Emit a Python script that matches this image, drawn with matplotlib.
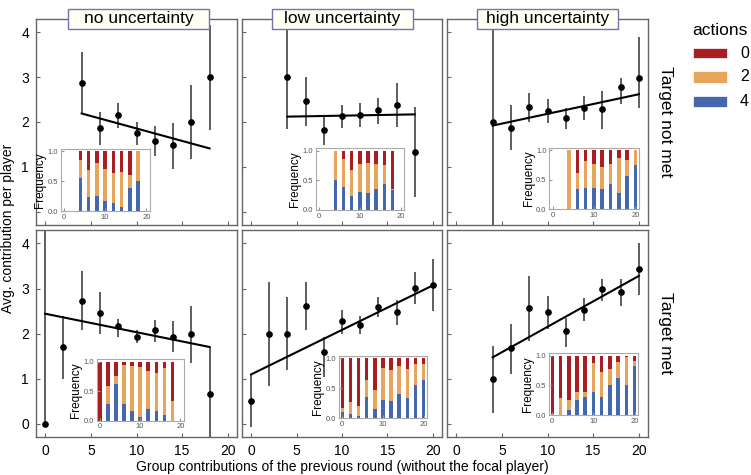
import numpy as np
import matplotlib
matplotlib.use('Agg')
import matplotlib.pyplot as plt
from matplotlib.patches import Rectangle

plt.rcParams['font.family'] = ['Liberation Sans', 'DejaVu Sans']

# ---- data: main panels (mean, CI low, CI high, fitted line ends) ----
x_nm_none = [4, 6, 8, 10, 12, 14, 16, 18]
mean_nm_none = [2.86, 1.86, 2.15, 1.75, 1.57, 1.48, 2.01, 3.00]
lo_nm_none = [2.19, 1.48, 1.87, 1.49, 1.24, 0.96, 1.18, 1.83]
hi_nm_none = [3.57, 2.23, 2.42, 2.01, 1.90, 1.98, 2.82, 4.16]
fit_nm_none = [2.19, 1.41]

x_nm_low = [4, 6, 8, 10, 12, 14, 16, 18]
mean_nm_low = [3.00, 2.46, 1.82, 2.13, 2.16, 2.26, 2.37, 1.33]
lo_nm_low = [1.85, 1.92, 1.48, 1.87, 1.88, 1.96, 1.88, 0.33]
hi_nm_low = [4.40, 3.00, 2.16, 2.39, 2.43, 2.54, 2.87, 2.34]
fit_nm_low = [2.12, 2.17]

x_nm_high = [4, 6, 8, 10, 12, 14, 16, 18, 20]
mean_nm_high = [2.00, 1.87, 2.34, 2.25, 2.08, 2.31, 2.28, 2.78, 2.99]
lo_nm_high = [-1.0, 1.37, 2.01, 1.97, 1.85, 2.04, 1.85, 2.40, 2.31]
hi_nm_high = [5.0, 2.37, 2.65, 2.52, 2.31, 2.57, 2.70, 2.98, 3.89]
fit_nm_high = [1.92, 2.62]

x_m_none = [0, 2, 4, 6, 8, 10, 12, 14, 16, 18]
mean_m_none = [0.00, 1.71, 2.73, 2.46, 2.16, 1.93, 2.07, 1.93, 1.99, 0.66]
lo_m_none = [0.00, 0.99, 2.07, 1.98, 1.93, 1.78, 1.82, 1.58, 1.35, -0.5]
hi_m_none = [5.0, 2.40, 3.40, 2.93, 2.33, 2.07, 2.29, 2.27, 2.62, 1.70]
fit_m_none = [2.44, 1.70]

x_m_low = [0, 2, 4, 6, 8, 10, 12, 14, 16, 18, 20]
mean_m_low = [0.49, 1.99, 1.99, 2.61, 1.58, 2.27, 2.20, 2.58, 2.48, 3.02, 3.07]
lo_m_low = [-0.08, 0.84, 1.18, 2.07, 1.03, 1.99, 1.99, 2.36, 2.20, 2.66, 2.50]
hi_m_low = [1.09, 3.14, 2.81, 3.14, 1.92, 2.53, 2.40, 2.81, 2.75, 3.36, 3.66]
fit_m_low = [1.09, 3.07]

x_m_high = [4, 6, 8, 10, 12, 14, 16, 18, 20]
mean_m_high = [1.00, 1.67, 2.56, 2.47, 2.05, 2.53, 2.98, 2.93, 3.43]
lo_m_high = [0.23, 1.10, 1.84, 2.10, 1.71, 2.27, 2.73, 2.61, 2.86]
hi_m_high = [1.73, 2.21, 3.27, 2.84, 2.35, 2.79, 3.21, 3.21, 4.00]
fit_m_high = [1.47, 3.28]

# ---- data: inset bars (share of action 4, share of action 4 or 2) ----
bx_nm_none = [4, 6, 8, 10, 12, 14, 16, 18]
p4_nm_none = [0.56, 0.24, 0.25, 0.17, 0.13, 0.06, 0.39, 0.50]
p42_nm_none = [0.85, 0.68, 0.81, 0.70, 0.64, 0.66, 0.60, 1.00]

bx_nm_low = [4, 6, 8, 10, 12, 14, 16, 18]
p4_nm_low = [0.51, 0.38, 0.23, 0.31, 0.29, 0.36, 0.44, 0.34]
p42_nm_low = [1.00, 0.86, 0.68, 0.77, 0.80, 0.78, 0.76, 0.35]

bx_nm_high = [4, 6, 8, 10, 12, 14, 16, 18, 20]
p4_nm_high = [0.00, 0.34, 0.36, 0.36, 0.35, 0.42, 0.27, 0.57, 0.75]
p42_nm_high = [1.00, 0.61, 0.81, 0.76, 0.71, 0.76, 0.87, 0.84, 1.00]

bx_m_none = [0, 2, 4, 6, 8, 10, 12, 14, 16, 18]
p4_m_none = [0.00, 0.28, 0.62, 0.29, 0.16, 0.07, 0.19, 0.16, 0.10, 0.00]
p42_m_none = [0.00, 0.58, 0.76, 0.95, 0.93, 0.91, 0.84, 0.80, 0.90, 0.33]

bx_m_low = [0, 2, 4, 6, 8, 10, 12, 14, 16, 18, 20]
p4_m_low = [0.10, 0.07, 0.04, 0.35, 0.15, 0.30, 0.29, 0.41, 0.34, 0.55, 0.64]
p42_m_low = [0.17, 0.27, 0.21, 0.63, 0.47, 0.83, 0.81, 0.87, 0.82, 0.90, 0.90]

bx_m_high = [0, 2, 4, 6, 8, 10, 12, 14, 16, 18, 20]
p4_m_high = [0.00, 0.00, 0.08, 0.25, 0.31, 0.38, 0.31, 0.51, 0.63, 0.51, 0.82]
p42_m_high = [0.02, 0.29, 0.25, 0.38, 0.38, 0.87, 0.73, 0.77, 0.89, 0.97, 0.91]

col_titles = ['no uncertainty', 'low uncertainty', 'high uncertainty']
row_titles = ['Target not met', 'Target met']
action_labels = ['0', '2', '4']

RED = '#A81C22'
ORANGE = '#E6A55B'
BLUE = '#4467AE'

W, H = 751, 475
fig = plt.figure(figsize=(W / 100, H / 100), dpi=100)


def px(x0, x1, y0, y1):
    return [x0 / W, 1 - y1 / H, (x1 - x0) / W, (y1 - y0) / H]


panel_x = [(36, 237), (242, 442), (447, 648)]
panel_y = [(19, 225), (230, 437)]
inset_px = [[(60.7, 150, 149, 211), (315.7, 404.3, 148.3, 210), (549.3, 639, 147.7, 209.3)],
            [(96.7, 184, 359.3, 420.7), (339, 427.3, 355.7, 418.3), (549, 638.3, 353.3, 415)]]

main = [[(x_nm_none, mean_nm_none, lo_nm_none, hi_nm_none, fit_nm_none),
         (x_nm_low, mean_nm_low, lo_nm_low, hi_nm_low, fit_nm_low),
         (x_nm_high, mean_nm_high, lo_nm_high, hi_nm_high, fit_nm_high)],
        [(x_m_none, mean_m_none, lo_m_none, hi_m_none, fit_m_none),
         (x_m_low, mean_m_low, lo_m_low, hi_m_low, fit_m_low),
         (x_m_high, mean_m_high, lo_m_high, hi_m_high, fit_m_high)]]
bars = [[(bx_nm_none, p4_nm_none, p42_nm_none),
         (bx_nm_low, p4_nm_low, p42_nm_low),
         (bx_nm_high, p4_nm_high, p42_nm_high)],
        [(bx_m_none, p4_m_none, p42_m_none),
         (bx_m_low, p4_m_low, p42_m_low),
         (bx_m_high, p4_m_high, p42_m_high)]]

for r in range(2):
    for c in range(3):
        x, m, lo, hi, fit = main[r][c]
        ax = fig.add_axes(px(panel_x[c][0], panel_x[c][1], panel_y[r][0], panel_y[r][1]))
        ax.vlines(x, lo, hi, color='#333333', lw=1.1)
        ax.plot([x[0], x[-1]], fit, color='k', lw=1.5)
        ax.plot(x, m, 'o', color='k', ms=3.8)
        ax.set_xlim(-1, 21)
        ax.set_ylim(-0.3, 4.3)
        ax.set_xticks([0, 5, 10, 15, 20])
        ax.set_yticks([0, 1, 2, 3, 4])
        if r == 0:
            ax.set_yticklabels(['', '1', '2', '3', '4'])
        ax.tick_params(direction='in', length=3, color='#666666', labelsize=10,
                       labelcolor='black', pad=5)
        if r == 0:
            ax.tick_params(labelbottom=False)
        if c > 0:
            ax.tick_params(labelleft=False)
        for s in ax.spines.values():
            s.set_color('#666666')
            s.set_linewidth(1)

        bx, p4, p42 = bars[r][c]
        p4 = np.array(p4)
        p42 = np.array(p42)
        ix = fig.add_axes(px(*inset_px[r][c]))
        ix.bar(bx, p4, width=0.85, color=BLUE, lw=0)
        ix.bar(bx, p42 - p4, bottom=p4, width=0.85, color=ORANGE, lw=0)
        ix.bar(bx, 1 - p42, bottom=p42, width=0.85, color=RED, lw=0)
        ix.set_xlim(-0.8, 20.9)
        ix.set_ylim(0, 1.04)
        ix.set_xticks([0, 10, 20])
        ix.set_yticks([0, 0.5, 1.0])
        ix.set_yticklabels(['0.0', '0.5', '1.0'])
        ix.tick_params(direction='in', length=2, color='#999999', labelsize=5.5,
                       labelcolor='#555555', pad=2)
        ix.set_ylabel('Frequency', fontsize=8.5, labelpad=1)
        for s in ix.spines.values():
            s.set_color('#aaaaaa')
            s.set_linewidth(0.8)

# column strip headers
for c, t in enumerate(col_titles):
    cx = (panel_x[c][0] + panel_x[c][1]) / 2 + (2 if c == 0 else 0)
    x0, x1 = cx - 70.5, cx + 70.5
    b = px(x0, x1, 9.3, 28.7)
    fig.add_artist(Rectangle((b[0], b[1]), b[2], b[3], transform=fig.transFigure,
                             fc='#FFFFF4', ec='#7B6FB0', lw=1, zorder=5))
    fig.text(cx / W, 1 - 19 / H, t, ha='center', va='center', fontsize=12.5, zorder=6)

# row strip labels
for r, t in enumerate(row_titles):
    cy = (panel_y[r][0] + panel_y[r][1]) / 2
    fig.text(665 / W, 1 - cy / H, t, rotation=270, ha='center', va='center', fontsize=12.5)

# legend
fig.text(692 / W, 1 - 35 / H, 'actions', ha='left', va='baseline', fontsize=12.5)
leg_y = [(47.7, 58.3), (71, 82.7), (96, 107.3)]
for (y0, y1), colr, lab in zip(leg_y, [RED, ORANGE, BLUE], action_labels):
    b = px(693.3, 727.3, y0, y1)
    fig.add_artist(Rectangle((b[0], b[1]), b[2], b[3], transform=fig.transFigure,
                             fc=colr, ec='white', lw=0.5))
    fig.text(740 / W, 1 - (y0 + y1) / 2 / H, lab, ha='left', va='center', fontsize=11.5)

fig.text((36 + 648) / 2 / W, 1 - 467 / H,
         'Group contributions of the previous round (without the focal player)',
         ha='center', va='center', fontsize=10)
fig.text(8 / W, 1 - 228 / H, 'Avg. contribution per player', rotation=90,
         ha='center', va='center', fontsize=10)

fig.savefig('out.png', dpi=100)
